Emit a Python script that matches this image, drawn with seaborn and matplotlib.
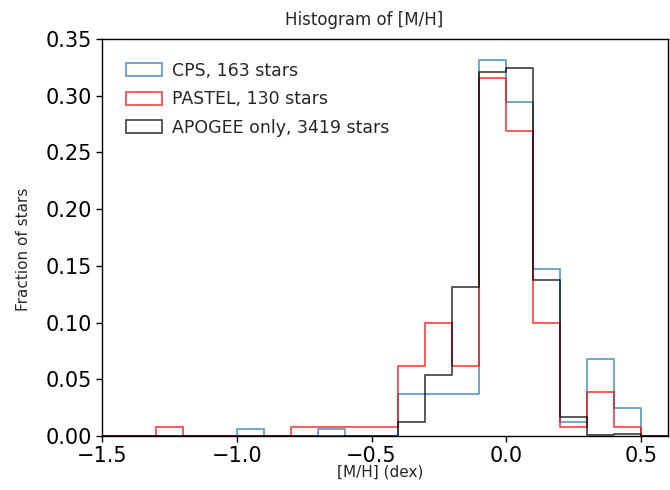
import numpy as np
import matplotlib
matplotlib.use("Agg")
import matplotlib.pyplot as plt
from matplotlib.patches import Patch
import seaborn as sns

# Bin edges for [M/H] (dex)
bin_edges = [-1.5, -1.4, -1.3, -1.2, -1.1, -1.0, -0.9, -0.8, -0.7, -0.6, -0.5,
             -0.4, -0.3, -0.2, -0.1, 0.0, 0.1, 0.2, 0.3, 0.4, 0.5, 0.6]
bin_centers = [-1.45, -1.35, -1.25, -1.15, -1.05, -0.95, -0.85, -0.75, -0.65, -0.55,
               -0.45, -0.35, -0.25, -0.15, -0.05, 0.05, 0.15, 0.25, 0.35, 0.45, 0.55]

# Star counts per bin
cps_counts = [0, 0, 0, 0, 0, 1, 0, 0, 1, 0, 0, 6, 6, 6, 54, 48, 24, 2, 11, 4, 0]
pastel_counts = [0, 0, 1, 0, 0, 0, 0, 1, 1, 1, 1, 8, 13, 8, 41, 35, 13, 1, 5, 1, 0]
apogee_counts = [0, 0, 0, 0, 0, 0, 0, 0, 0, 0, 0, 43, 184, 448, 1096, 1109, 470, 58, 4, 7, 0]

n_cps, n_pastel, n_apogee = 163, 130, 3419
labels = ["CPS, 163 stars", "PASTEL, 130 stars", "APOGEE only, 3419 stars"]
colors = ["#1f77b4", "red", "black"]

sns.set_style("white")
plt.rcParams['font.family'] = ['DejaVu Sans']

fig = plt.figure(figsize=(6.7, 4.9), dpi=100)
ax = fig.add_axes([102 / 670, 1 - 436 / 490, (668 - 102) / 670, (436 - 39) / 490])

series = [(cps_counts, n_cps), (pastel_counts, n_pastel), (apogee_counts, n_apogee)]
for (counts, n), col in zip(series, colors):
    w = np.array(counts, dtype=float) / n
    sns.histplot(x=bin_centers, weights=w, bins=bin_edges, element="step", fill=False,
                 color=col, alpha=0.7, linewidth=1.3, ax=ax)

ax.set_xlim(-1.5, 0.6)
ax.set_ylim(0, 0.35)
ax.set_xticks([-1.5, -1.0, -0.5, 0.0, 0.5])
ax.set_yticks([0.0, 0.05, 0.10, 0.15, 0.20, 0.25, 0.30, 0.35])
ax.tick_params(axis="both", labelsize=15, direction="out", length=4, width=1,
               bottom=True, left=True, colors="black")
for s in ax.spines.values():
    s.set_color("black")
    s.set_linewidth(1.0)

ax.set_xlabel("[M/H] (dex)", fontsize=11)
ax.set_ylabel("Fraction of stars", fontsize=11)
ax.xaxis.set_label_coords(0.491, -0.072)
ax.yaxis.set_label_coords(-0.125, 0.471)
ax.set_title("Histogram of [M/H]", fontsize=12, x=0.463, pad=10)

handles = [Patch(facecolor="none", edgecolor=c, alpha=0.7, linewidth=1.3) for c in colors]
ax.legend(handles, labels, loc="upper left", frameon=False, fontsize=12.5,
          bbox_to_anchor=(0.030, 0.96), borderaxespad=0, handlelength=2.1,
          handleheight=0.8, handletextpad=0.57, labelspacing=0.6)

fig.savefig("out.png", dpi=100)
